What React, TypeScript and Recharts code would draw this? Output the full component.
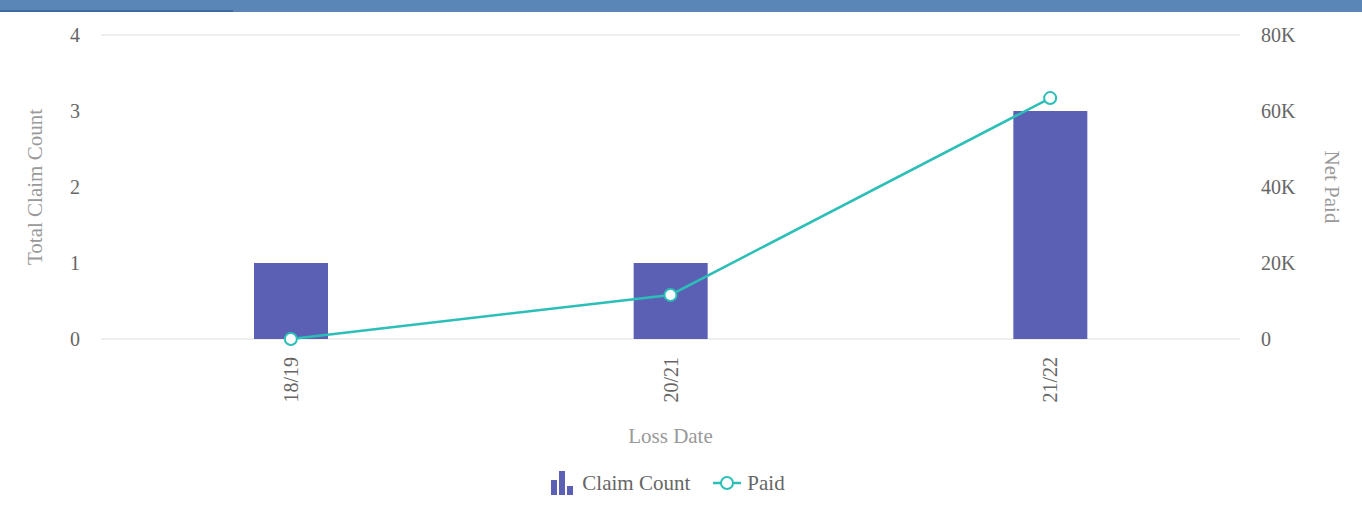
import React from 'react';
import { ComposedChart, Bar, Line, XAxis, YAxis, CartesianGrid, Legend } from 'recharts';

const categories = ['18/19', '20/21', '21/22'];
const claimCount = [1, 1, 3];
const paid = [0, 11600, 63400];
const countTicks = [0, 1, 2, 3, 4];
const paidTicks = [0, 20000, 40000, 60000, 80000];

const data = categories.map((c, i) => ({ name: c, count: claimCount[i], paid: paid[i] }));

const FONT = '"Liberation Serif", "Times New Roman", serif';
const BAR = '#5c60b5';
const LINE = '#2bbfb7';

const XTick = (props: any) => {
  const { x, y, payload } = props;
  return (
    <text
      transform={`translate(${x + 7},${y + 10}) rotate(-90)`}
      textAnchor="end"
      fill="#666"
      fontSize={20}
      fontFamily={FONT}
    >
      {payload.value}
    </text>
  );
};

const LegendContent = () => (
  <div
    style={{
      display: 'flex',
      justifyContent: 'center',
      alignItems: 'center',
      height: 42,
      fontFamily: FONT,
      fontSize: 21,
      color: '#666',
      paddingRight: 27,
    }}
  >
    <svg width={26} height={26} style={{ marginRight: 6 }}>
      <rect x={1} y={10} width={6} height={15} fill={BAR} />
      <rect x={9} y={1} width={6} height={24} fill={BAR} />
      <rect x={17} y={16} width={6} height={9} fill={BAR} />
    </svg>
    <span>Claim Count</span>
    <svg width={30} height={20} style={{ marginLeft: 22, marginRight: 5 }}>
      <line x1={1} y1={10} x2={29} y2={10} stroke={LINE} strokeWidth={2.5} />
      <circle cx={15} cy={10} r={6} fill="#fff" stroke={LINE} strokeWidth={2} />
    </svg>
    <span>Paid</span>
  </div>
);

export default function App() {
  return (
    <div style={{ position: 'absolute', left: 0, top: 0, width: 1362, height: 524, background: '#fff' }}>
      <ComposedChart
        width={1362}
        height={524}
        data={data}
        margin={{ top: 35, right: 0, left: 0, bottom: 20 }}
        style={{ fontFamily: FONT }}
      >
        <CartesianGrid horizontal vertical={false} stroke="#e8e8e8" strokeWidth={1.5} />
        <XAxis
          dataKey="name"
          height={123}
          tickLine={false}
          axisLine={false}
          interval={0}
          tick={<XTick />}
          label={{ value: 'Loss Date', position: 'insideTop', offset: 89, fill: '#999', fontSize: 21, fontFamily: FONT }}
        />
        <YAxis
          yAxisId="left"
          orientation="left"
          width={101}
          domain={[0, 4]}
          ticks={countTicks}
          tickLine={false}
          axisLine={false}
          tickSize={0}
          tickMargin={21}
          tick={{ fill: '#666', fontSize: 20, fontFamily: FONT }}
          label={{ value: 'Total Claim Count', angle: -90, position: 'insideLeft', offset: 35, fill: '#999', fontSize: 21, fontFamily: FONT, style: { textAnchor: 'middle' } }}
        />
        <YAxis
          yAxisId="right"
          orientation="right"
          width={122}
          domain={[0, 80000]}
          ticks={paidTicks}
          tickLine={false}
          axisLine={false}
          tickSize={0}
          tickMargin={21}
          tick={{ fill: '#666', fontSize: 20, fontFamily: FONT }}
          tickFormatter={(v: number) => (v === 0 ? '0' : `${v / 1000}K`)}
          label={{ value: 'Net Paid', angle: 90, position: 'insideRight', offset: 30, fill: '#999', fontSize: 21, fontFamily: FONT, style: { textAnchor: 'middle' } }}
        />
        <Bar yAxisId="left" dataKey="count" name="Claim Count" fill={BAR} barSize={74} isAnimationActive={false} />
        <Line
          yAxisId="right"
          type="linear"
          dataKey="paid"
          name="Paid"
          stroke={LINE}
          strokeWidth={2.5}
          dot={{ r: 6, fill: '#fff', stroke: LINE, strokeWidth: 2 }}
          activeDot={false}
          isAnimationActive={false}
        />
        <Legend verticalAlign="bottom" height={42} content={<LegendContent />} wrapperStyle={{ height: 42 }} />
      </ComposedChart>
      <div style={{ position: 'absolute', left: 0, top: 0, width: 1362, height: 12, background: '#5a85b7' }} />
      <div style={{ position: 'absolute', left: 0, top: 10, width: 233, height: 2, background: '#3d6a9e' }} />
    </div>
  );
}
